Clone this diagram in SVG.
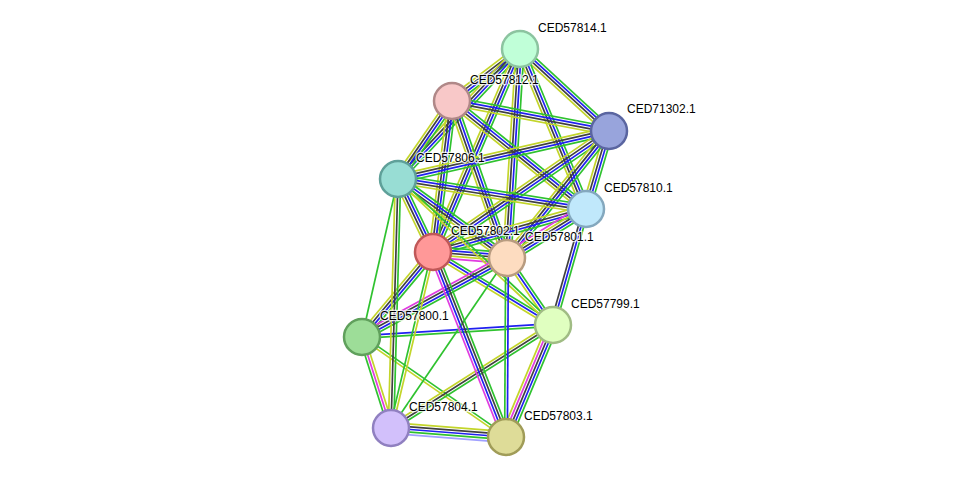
<svg xmlns="http://www.w3.org/2000/svg" width="975" height="483" viewBox="0 0 975 483">
<style>
#edges path{fill:none;stroke-width:1.7}
.g{stroke:#2fc22f}.b{stroke:#2020f0}.k{stroke:#404040}.y{stroke:#c3d52a}.m{stroke:#e03ce0}.h{stroke:#a0a0ff}
.node circle{stroke-width:2.5}
.node text{font-family:"Liberation Sans",Arial,sans-serif;font-size:12px;fill:#000;stroke:#fff;stroke-width:2.5px;stroke-opacity:0.8;paint-order:stroke;stroke-linejoin:round}
</style>
<rect width="975" height="483" fill="#fff"/>
<g id="edges">
<g transform="translate(520 49) rotate(142.6)"><path class="g" d="M0-4.05H85.6"/><path class="b" d="M0-1.35H85.6"/><path class="k" d="M0 1.35H85.6"/><path class="y" d="M0 4.05H85.6"/></g>
<g transform="translate(520 49) rotate(42.65)"><path class="g" d="M0-4.05H121"/><path class="b" d="M0-1.35H121"/><path class="k" d="M0 1.35H121"/><path class="y" d="M0 4.05H121"/></g>
<g transform="translate(520 49) rotate(133.2)"><path class="g" d="M0-4.05H178.3"/><path class="b" d="M0-1.35H178.3"/><path class="k" d="M0 1.35H178.3"/><path class="y" d="M0 4.05H178.3"/></g>
<g transform="translate(520 49) rotate(67.6)"><path class="g" d="M0-4.05H173.1"/><path class="b" d="M0-1.35H173.1"/><path class="k" d="M0 1.35H173.1"/><path class="y" d="M0 4.05H173.1"/></g>
<g transform="translate(520 49) rotate(113.2)"><path class="g" d="M0-4.05H220.9"/><path class="b" d="M0-1.35H220.9"/><path class="k" d="M0 1.35H220.9"/><path class="y" d="M0 4.05H220.9"/></g>
<g transform="translate(520 49) rotate(93.56)"><path class="g" d="M0-4.05H209.4"/><path class="b" d="M0-1.35H209.4"/><path class="k" d="M0 1.35H209.4"/><path class="y" d="M0 4.05H209.4"/></g>
<g transform="translate(452 101) rotate(10.82)"><path class="g" d="M0-4.05H159.8"/><path class="b" d="M0-1.35H159.8"/><path class="k" d="M0 1.35H159.8"/><path class="y" d="M0 4.05H159.8"/></g>
<g transform="translate(452 101) rotate(124.7)"><path class="g" d="M0-4.05H94.9"/><path class="b" d="M0-1.35H94.9"/><path class="k" d="M0 1.35H94.9"/><path class="y" d="M0 4.05H94.9"/></g>
<g transform="translate(452 101) rotate(38.87)"><path class="g" d="M0-4.05H172.1"/><path class="b" d="M0-1.35H172.1"/><path class="k" d="M0 1.35H172.1"/><path class="y" d="M0 4.05H172.1"/></g>
<g transform="translate(452 101) rotate(97.17)"><path class="g" d="M0-4.05H152.2"/><path class="b" d="M0-1.35H152.2"/><path class="k" d="M0 1.35H152.2"/><path class="y" d="M0 4.05H152.2"/></g>
<g transform="translate(452 101) rotate(70.7)"><path class="g" d="M0-4.05H166.4"/><path class="b" d="M0-1.35H166.4"/><path class="k" d="M0 1.35H166.4"/><path class="y" d="M0 4.05H166.4"/></g>
<g transform="translate(609 131) rotate(167.18)"><path class="g" d="M0-4.05H216.4"/><path class="b" d="M0-1.35H216.4"/><path class="k" d="M0 1.35H216.4"/><path class="y" d="M0 4.05H216.4"/></g>
<g transform="translate(609 131) rotate(106.43)"><path class="g" d="M0-4.05H81.3"/><path class="b" d="M0-1.35H81.3"/><path class="k" d="M0 1.35H81.3"/><path class="y" d="M0 4.05H81.3"/></g>
<g transform="translate(609 131) rotate(145.5)"><path class="g" d="M0-4.05H213.6"/><path class="b" d="M0-1.35H213.6"/><path class="k" d="M0 1.35H213.6"/><path class="y" d="M0 4.05H213.6"/></g>
<g transform="translate(609 131) rotate(128.77)"><path class="g" d="M0-4.05H162.9"/><path class="b" d="M0-1.35H162.9"/><path class="k" d="M0 1.35H162.9"/><path class="y" d="M0 4.05H162.9"/></g>
<g transform="translate(398 179) rotate(9.07)"><path class="g" d="M0-4.05H190.4"/><path class="b" d="M0-1.35H190.4"/><path class="k" d="M0 1.35H190.4"/><path class="y" d="M0 4.05H190.4"/></g>
<g transform="translate(398 179) rotate(64.4)"><path class="g" d="M0-4.05H81"/><path class="b" d="M0-1.35H81"/><path class="k" d="M0 1.35H81"/><path class="y" d="M0 4.05H81"/></g>
<g transform="translate(398 179) rotate(35.93)"><path class="g" d="M0-4.05H134.6"/><path class="b" d="M0-1.35H134.6"/><path class="k" d="M0 1.35H134.6"/><path class="y" d="M0 4.05H134.6"/></g>
<g transform="translate(586 209) rotate(164.3)"><path class="g" d="M0-4.05H158.9"/><path class="b" d="M0-1.35H158.9"/><path class="k" d="M0 1.35H158.9"/><path class="y" d="M0 4.05H158.9"/></g>
<g transform="translate(586 209) rotate(148.19)"><path class="g" d="M0-5.4H93"/><path class="b" d="M0-2.7H93"/><path class="k" d="M0 0H93"/><path class="y" d="M0 2.7H93"/><path class="m" d="M0 5.4H93"/></g>
<g transform="translate(433 252) rotate(4.64)"><path class="g" d="M0-5.4H74.2"/><path class="b" d="M0-2.7H74.2"/><path class="k" d="M0 0H74.2"/><path class="y" d="M0 2.7H74.2"/><path class="m" d="M0 5.4H74.2"/></g>
<g transform="translate(586 209) rotate(105.88)"><path class="g" d="M0-2.7H120.6"/><path class="b" d="M0 0H120.6"/><path class="k" d="M0 2.7H120.6"/></g>
<g transform="translate(433 252) rotate(31.31)"><path class="g" d="M0-2.7H140.5"/><path class="b" d="M0 0H140.5"/><path class="y" d="M0 2.7H140.5"/></g>
<g transform="translate(507 258) rotate(55.53)"><path class="g" d="M0-2.7H81.3"/><path class="b" d="M0 0H81.3"/><path class="y" d="M0 2.7H81.3"/></g>
<g transform="translate(398 179) rotate(43.29)"><path class="g" d="M0-1.35H212.9"/><path class="y" d="M0 1.35H212.9"/></g>
<g transform="translate(433 252) rotate(129.87)"><path class="g" d="M0-4.05H110.8"/><path class="b" d="M0-1.35H110.8"/><path class="k" d="M0 1.35H110.8"/><path class="y" d="M0 4.05H110.8"/></g>
<g transform="translate(507 258) rotate(151.42)"><path class="g" d="M0-4.05H165.1"/><path class="b" d="M0-1.35H165.1"/><path class="k" d="M0 1.35H165.1"/><path class="m" d="M0 4.05H165.1"/></g>
<g transform="translate(398 179) rotate(102.84)"><path class="g" d="M0 0H162"/></g>
<g transform="translate(362 337) rotate(-3.6)"><path class="b" d="M0-1.35H191.4"/><path class="g" d="M0 1.35H191.4"/></g>
<g transform="translate(362 337) rotate(72.32)"><path class="y" d="M0-2.7H95.5"/><path class="m" d="M0 0H95.5"/><path class="g" d="M0 2.7H95.5"/></g>
<g transform="translate(362 337) rotate(34.78)"><path class="g" d="M0-1.35H175.3"/><path class="y" d="M0 1.35H175.3"/></g>
<g transform="translate(398 179) rotate(91.61)"><path class="g" d="M0-2.7H249.1"/><path class="k" d="M0 0H249.1"/><path class="y" d="M0 2.7H249.1"/></g>
<g transform="translate(433 252) rotate(103.42)"><path class="y" d="M0-1.35H180.9"/><path class="g" d="M0 1.35H180.9"/></g>
<g transform="translate(507 258) rotate(124.31)"><path class="g" d="M0 0H205.8"/></g>
<g transform="translate(391 428) rotate(4.47)"><path class="y" d="M0-5.4H115.4"/><path class="k" d="M0-2.7H115.4"/><path class="b" d="M0 0H115.4"/><path class="g" d="M0 2.7H115.4"/><path class="h" d="M0 5.4H115.4"/></g>
<g transform="translate(391 428) rotate(-32.45)"><path class="y" d="M0-2.7H192"/><path class="k" d="M0 0H192"/><path class="g" d="M0 2.7H192"/></g>
<g transform="translate(506 437) rotate(-67.24)"><path class="y" d="M0-5.4H121.5"/><path class="m" d="M0-2.7H121.5"/><path class="k" d="M0 0H121.5"/><path class="b" d="M0 2.7H121.5"/><path class="g" d="M0 5.4H121.5"/></g>
<g transform="translate(433 252) rotate(68.47)"><path class="g" d="M0-4.05H198.9"/><path class="k" d="M0-1.35H198.9"/><path class="b" d="M0 1.35H198.9"/><path class="m" d="M0 4.05H198.9"/></g>
<g transform="translate(507 258) rotate(90.32)"><path class="b" d="M0-1.35H179"/><path class="g" d="M0 1.35H179"/></g>
</g>
<g id="n57814" class="node"><circle cx="520" cy="49" r="18" fill="#c0ffd8" stroke="#8cc4a0"/><text x="538" y="32">CED57814.1</text></g>
<g id="n57812" class="node"><circle cx="452" cy="101" r="18" fill="#f8c8c8" stroke="#b08888"/><text x="470" y="84">CED57812.1</text></g>
<g id="n71302" class="node"><circle cx="609" cy="131" r="18" fill="#98a4dc" stroke="#5a65a0"/><text x="627" y="113">CED71302.1</text></g>
<g id="n57806" class="node"><circle cx="398" cy="179" r="18" fill="#98ddd4" stroke="#5fa099"/><text x="416" y="162">CED57806.1</text></g>
<g id="n57810" class="node"><circle cx="586" cy="209" r="18" fill="#c0e8fb" stroke="#84a8be"/><text x="604" y="192">CED57810.1</text></g>
<g id="n57802" class="node"><circle cx="433" cy="252" r="18" fill="#ff9898" stroke="#c05858"/><text x="451" y="235">CED57802.1</text></g>
<g id="n57801" class="node"><circle cx="507" cy="258" r="18" fill="#fddcc0" stroke="#b89c80"/><text x="525" y="241">CED57801.1</text></g>
<g id="n57799" class="node"><circle cx="553" cy="325" r="18" fill="#e0ffc0" stroke="#a0bc84"/><text x="571" y="308">CED57799.1</text></g>
<g id="n57800" class="node"><circle cx="362" cy="337" r="18" fill="#9ddd98" stroke="#60a05c"/><text x="380" y="320">CED57800.1</text></g>
<g id="n57804" class="node"><circle cx="391" cy="428" r="18" fill="#d2c0fb" stroke="#9080c0"/><text x="409" y="411">CED57804.1</text></g>
<g id="n57803" class="node"><circle cx="506" cy="437" r="18" fill="#dedc98" stroke="#a09c58"/><text x="524" y="420">CED57803.1</text></g>
</svg>
